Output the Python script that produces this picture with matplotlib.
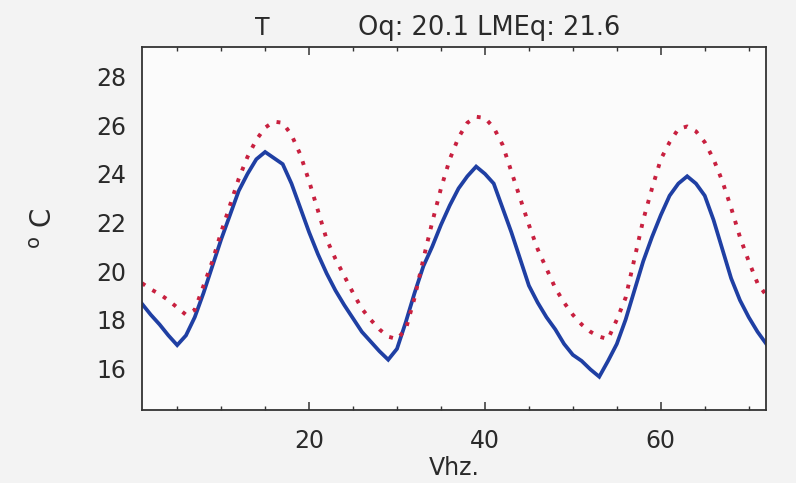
import matplotlib
matplotlib.use("Agg")
import matplotlib.pyplot as plt
from matplotlib.ticker import MultipleLocator

hours = list(range(1, 73))
oq = [18.65, 18.2, 17.8, 17.35, 16.95, 17.35, 18.1, 19.1, 20.2, 21.3,
      22.3, 23.3, 24.0, 24.6, 24.9, 24.65, 24.4, 23.6, 22.6, 21.6,
      20.7, 19.9, 19.2, 18.6, 18.05, 17.5, 17.1, 16.7, 16.35, 16.8,
      17.9, 19.1, 20.2, 21.0, 21.9, 22.7, 23.4, 23.9, 24.3, 24.0,
      23.6, 22.6, 21.6, 20.5, 19.4, 18.7, 18.1, 17.6, 17.0, 16.55,
      16.3, 15.95, 15.65, 16.3, 17.0, 18.0, 19.2, 20.4, 21.4, 22.3,
      23.1, 23.6, 23.9, 23.6, 23.1, 22.1, 20.9, 19.7, 18.8, 18.1,
      17.5, 17.0]
lmeq = [19.5, 19.25, 19.05, 18.8, 18.5, 18.2, 18.4, 19.4, 20.4, 21.6,
        22.7, 23.8, 24.7, 25.4, 25.9, 26.15, 26.1, 25.6, 24.8, 23.7,
        22.5, 21.3, 20.5, 19.8, 19.1, 18.45, 18.0, 17.6, 17.3, 17.2,
        17.6, 18.9, 20.5, 22.0, 23.4, 24.6, 25.5, 26.1, 26.35, 26.3,
        25.9, 25.2, 24.1, 23.0, 21.9, 20.9, 20.1, 19.3, 18.7, 18.2,
        17.8, 17.5, 17.3, 17.2, 18.0, 18.9, 20.5, 22.1, 23.4, 24.6,
        25.3, 25.85, 25.95, 25.75, 25.3, 24.6, 23.7, 22.6, 21.4, 20.4,
        19.5, 19.0]
y_ticks = [16, 18, 20, 22, 24, 26, 28]
x_ticks = [20, 40, 60]
title_var = "T"
title_stats = "Oq: 20.1 LMEq: 21.6"

plt.rcParams['font.family'] = ['DejaVu Sans']

fig = plt.figure(figsize=(7.96, 4.83), dpi=100, facecolor='#f3f3f3')
ax = fig.add_axes([0.1784, 0.1511, 0.7843, 0.7516])
ax.set_facecolor('#fbfbfb')

ax.plot(hours, oq, color='#1f3fa3', lw=2.7, solid_joinstyle='miter')
ax.plot(hours, lmeq, color='#c8203f', lw=2.8, linestyle=(0, (1.0, 2.2)))

ax.set_xlim(1, 72)
ax.set_ylim(14.28, 29.22)
ax.set_xticks(x_ticks)
ax.xaxis.set_minor_locator(MultipleLocator(5))
ax.set_yticks(y_ticks)
ax.tick_params(axis='x', which='major', direction='in', length=6, width=1.1,
               top=True, labelsize=17, pad=14, colors='#333333', labelcolor='#2a2a2a')
ax.tick_params(axis='x', which='minor', direction='in', length=3, width=1.0,
               top=True, colors='#333333')
ax.tick_params(axis='y', which='both', length=0, labelsize=17, pad=11, labelcolor='#2a2a2a')
for s in ax.spines.values():
    s.set_color('#333333')
    s.set_linewidth(1.3)

ax.set_xlabel("Vhz.", fontsize=17, color='#2a2a2a', labelpad=2)
ax.set_ylabel(r"$^{\mathrm{o}}$ C", fontsize=20, color='#2a2a2a', labelpad=28)

fig.text(0.329, 0.942, title_var, fontsize=17, ha='center', va='center', color='#2a2a2a')
fig.text(0.615, 0.942, title_stats, fontsize=18.5, ha='center', va='center', color='#2a2a2a')

fig.savefig("out.png", dpi=100, facecolor=fig.get_facecolor())
